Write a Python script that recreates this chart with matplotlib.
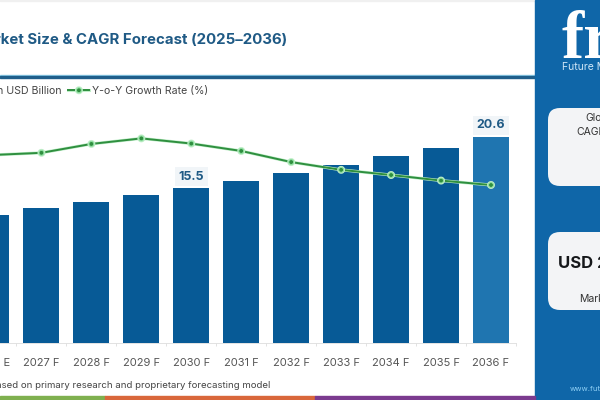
import matplotlib
matplotlib.use("Agg")
import matplotlib.pyplot as plt
import matplotlib.patheffects as pe
from matplotlib.patches import FancyBboxPatch, Rectangle

years = ["2026 E", "2027 F", "2028 F", "2029 F", "2030 F", "2031 F",
         "2032 F", "2033 F", "2034 F", "2035 F", "2036 F"]
market_size = [12.8, 13.5, 14.1, 14.8, 15.5, 16.2, 17.0, 17.8, 18.7, 19.5, 20.6]
growth_rate = [5.08, 5.14, 5.38, 5.53, 5.39, 5.19, 4.89, 4.68, 4.54, 4.39, 4.27]
labelled = ["2030 F", "2036 F"]

W, H = 600, 400
plt.rcParams['font.family'] = ['Inter', 'DejaVu Sans']

fig = plt.figure(figsize=(6, 4), dpi=100)

# background in pixel coords, y pointing down
bg = fig.add_axes([0, 0, 1, 1])
bg.set_xlim(0, W)
bg.set_ylim(H, 0)
bg.axis('off')

bg.add_patch(Rectangle((0, 0), W, 1, color='#f0f0f0'))
bg.add_patch(Rectangle((0, 74.5), 535, 1.2, color='#8fd0ea'))
bg.add_patch(Rectangle((0, 75.5), 535, 2.5, color='#1f5f8b'))
bg.add_patch(Rectangle((535, 0), 65, H, color='#0f66a8'))
bg.add_patch(Rectangle((0, 396), 105, 4, color='#7fb04f'))
bg.add_patch(Rectangle((105, 396), 210, 4, color='#d9673b'))
bg.add_patch(Rectangle((315, 396), 220, 4, color='#7b3b8f'))

for top, bottom in [(108, 186), (232, 310)]:
    bg.add_patch(FancyBboxPatch((548, top), 80, bottom - top,
                                boxstyle="round,pad=0,rounding_size=12",
                                fc='#f3f4f6', ec='none'))

bg.text(287, 40, "Market Size & CAGR Forecast (2025–2036)", ha='right', va='center',
        fontsize=10.8, fontweight='bold', color='#1f5a85')

# logo, striped by thin panel coloured lines
bg.text(561, 58, "fr", ha='left', va='baseline', fontsize=48, fontweight='bold',
        family='Liberation Serif', color='white')
for stripe in range(18, 60, 5):
    bg.plot([555, 600], [stripe, stripe], color='#0f66a8', lw=0.7)
bg.text(562, 67, "Future Market", ha='left', va='center', fontsize=7.5, color='#cfe6f7')

bg.text(585, 118, "Global", ha='left', va='center', fontsize=7.5, color='#333333')
bg.text(576, 132, "CAGR", ha='left', va='center', fontsize=7.5, color='#333333')
bg.text(558, 263, "USD 20.6", ha='left', va='center', fontsize=12, fontweight='bold', color='#15171a')
bg.text(579, 299, "Market", ha='left', va='center', fontsize=7.5, color='#333333')
bg.text(570, 389, "www.futuremarketinsights.com", ha='left', va='center', fontsize=5.5, color='#8fd0f5')
bg.text(270, 385.5, "Based on primary research and proprietary forecasting model", ha='right', va='center',
        fontsize=6.9, color='#444444')

# chart axes run off the left edge so the first bar is cut like the original
left_px, right_px, top_px, base_px = -40, 516, 100, 343
ax = fig.add_axes([left_px / W, 1 - base_px / H, (right_px - left_px) / W, (base_px - top_px) / H])
ax.patch.set_alpha(0)
x = list(range(len(years)))
spacing = 49.95
x0_px = -8.5
ax.set_xlim((left_px - x0_px) / spacing, (right_px - x0_px) / spacing)
ax.set_ylim(0, (base_px - top_px) / 10)

colors = ['#075a96'] * (len(years) - 1) + ['#1f75b0']
bars = ax.bar(x, market_size, width=0.72, color=colors, label="Market Value in USD Billion")

for i, year in enumerate(years):
    if year in labelled:
        ax.text(i, market_size[i] + 0.55, f"{market_size[i]:.1f}", ha='center', va='bottom',
                fontsize=9, fontweight='bold', color='#1f5a85',
                bbox=dict(fc='#f1f5f8', ec='none', pad=2.5))

ax.set_xticks(x)
ax.set_xticklabels(years, fontsize=8, color='#555555')
ax.tick_params(axis='x', length=0, pad=11)
ax.set_xticks([i + 0.5 for i in x[:-1]] + [10.5], minor=True)
ax.tick_params(axis='x', which='minor', length=2, color='#dddddd')
ax.set_yticks([])
for s in ['top', 'left', 'right']:
    ax.spines[s].set_visible(False)
ax.spines['bottom'].set_color('#dddddd')
ax.spines['bottom'].set_linewidth(0.6)

# growth rate has no scale in the picture, second axis just fits the line
ax2 = ax.twinx()
ax2.patch.set_alpha(0)
ax2.set_ylim(0, (base_px - top_px) / 37)
ax2.set_yticks([])
for s in ax2.spines.values():
    s.set_visible(False)
line, = ax2.plot(x, growth_rate, color='#2f8f3f', lw=1.4, marker='o', ms=3.5,
                 mfc='#2f8f3f', mec='#8fe0a0', mew=0.7, label="Y-o-Y Growth Rate (%)",
                 path_effects=[pe.Stroke(linewidth=2.2, foreground='#bfeec8'), pe.Normal()])

leg = ax2.legend([bars, line], ["Market Value in USD Billion", "Y-o-Y Growth Rate (%)"],
                 ncols=2, frameon=False, fontsize=7.6, labelcolor='#444444',
                 loc='center right', bbox_to_anchor=((213 - left_px) / (right_px - left_px), 1 + 9 / (base_px - top_px)),
                 handlelength=2.0, handletextpad=0.2, columnspacing=0.6, borderpad=0)

fig.savefig("out.png", dpi=100)
